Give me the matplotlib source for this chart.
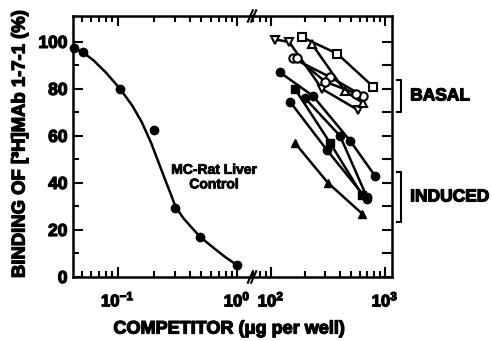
import numpy as np
import matplotlib
matplotlib.use("Agg")
import matplotlib.pyplot as plt
import matplotlib.patheffects as pe
from matplotlib.ticker import LogLocator, NullFormatter, FixedLocator

plt.rcParams["font.family"] = ["Liberation Sans", "DejaVu Sans"]
plt.rcParams["font.weight"] = "bold"
plt.rcParams["mathtext.fontset"] = "custom"
plt.rcParams["mathtext.rm"] = "Liberation Sans:bold"
plt.rcParams["mathtext.it"] = "Liberation Sans:bold"
plt.rcParams["mathtext.bf"] = "Liberation Sans:bold"

# MC-rat liver control (left, low-dose segment)
ctrl_x = [0.043, 0.051, 0.105, 0.20, 0.30, 0.49, 1.0]
ctrl_y = [97.5, 95.5, 80, 62.5, 29.5, 17, 5]
# fitted displacement curve, read at log10(x)
fit_logx = [-1.375, -1.29, -1.2, -1.1, -0.98, -0.88, -0.8, -0.72, -0.66,
            -0.6, -0.55, -0.517, -0.45, -0.38, -0.308, -0.2, -0.1, 0.0]
fit_y = [97.5, 95.5, 92, 87, 80, 73, 66, 57, 49,
         41, 34.5, 30, 25, 21, 17, 12.5, 8.5, 5]

# basal microsomes (open symbols)
basal = [
    ("v", [108, 144, 280, 579], [101, 100, 80, 71]),
    ("s", [187, 380, 785], [102, 95, 81]),
    ("^", [229, 446, 641], [99, 79, 74]),
    ("o", [156, 330, 641], [93, 85, 77]),
    ("o", [169, 300, 560], [93, 83, 78]),
]
# induced microsomes (filled symbols)
induced = [
    ("o", [120, 233, 493, 817], [87, 77, 58, 43]),
    ("s", [162, 330, 627], [80, 57, 35]),
    ("o", [147, 309, 693], [74.5, 54, 33]),
    ("o", [199, 403, 693], [76, 60, 34]),
    ("^", [162, 316, 627], [57, 40, 27]),
]

heavy = [pe.withStroke(linewidth=0.9, foreground="k")]

W, H = 492, 341
fig = plt.figure(figsize=(W / 100, H / 100), dpi=100)
x0, xb, x1 = 73, 252, 392
yb, yt = 277, 16
axL = fig.add_axes([x0 / W, 1 - yb / H, (xb - x0) / W, (yb - yt) / H])
axR = fig.add_axes([xb / W, 1 - yb / H, (x1 - xb) / W, (yb - yt) / H])
axR.patch.set_visible(False)

lw = 1.8
axL.plot(10 ** np.array(fit_logx), fit_y, color="k", lw=lw)
axL.plot(ctrl_x, ctrl_y, "o", color="k", ms=6, clip_on=False)

for m, xs, ys in basal:
    axR.plot(xs, ys, "-", marker=m, color="k", lw=lw, ms=6,
             mfc="white", mec="k", mew=1.5)
for m, xs, ys in induced:
    axR.plot(xs, ys, "-", marker=m, color="k", lw=lw, ms=6, mfc="k", mec="k")

axL.set_xscale("log")
axR.set_xscale("log")
axL.set_xlim(10 ** -1.375, 10 ** 0.125)
axR.set_xlim(10 ** 1.833, 10 ** 3.061)
for ax in (axL, axR):
    ax.set_ylim(0, 111)
    ax.xaxis.set_major_locator(LogLocator(base=10))
    ax.xaxis.set_minor_locator(LogLocator(base=10, subs=np.arange(2, 10)))
    ax.xaxis.set_minor_formatter(NullFormatter())
    ax.tick_params(axis="x", which="both", direction="in", top=True,
                   width=1.5, labelsize=12, pad=9)
    ax.tick_params(axis="x", which="major", length=7)
    ax.tick_params(axis="x", which="minor", length=4)
    for s in ax.spines.values():
        s.set_linewidth(1.8)

axL.spines["right"].set_visible(False)
axR.spines["left"].set_visible(False)

axL.yaxis.set_major_locator(FixedLocator([0, 20, 40, 60, 80, 100]))
axL.yaxis.set_minor_locator(FixedLocator([10, 30, 50, 70, 90]))
axL.tick_params(axis="y", which="both", direction="in", right=False,
                width=1.5, labelsize=12.5, pad=4)
axL.tick_params(axis="y", which="major", length=7)
axL.tick_params(axis="y", which="minor", length=4)

axR.yaxis.set_major_locator(FixedLocator(list(range(0, 110, 10))))
axR.tick_params(axis="y", which="both", direction="in", left=False,
                right=True, labelleft=False, width=1.5, length=7)

for ax in (axL, axR):
    for lab in ax.get_xticklabels() + ax.get_yticklabels():
        lab.set_path_effects(heavy)

# break marks on the x axis
for yy in (0, 1):
    for dx in (-0.012, 0.012):
        axR.plot([dx - 0.018, dx + 0.018], [yy - 0.022, yy + 0.022],
                 transform=axR.transAxes, color="k", lw=1.5, clip_on=False)

axL.text(0.64, 42.5, "MC-Rat Liver\nControl", ha="center", va="center",
         fontsize=10, fontweight="bold", linespacing=1.05, zorder=5,
         path_effects=[pe.withStroke(linewidth=0.6, foreground="k")])

# group brackets on the right
def bracket(y_lo, y_hi, label):
    axR.plot([1.035, 1.065, 1.065, 1.035], [y_hi, y_hi, y_lo, y_lo],
             transform=axR.get_yaxis_transform(), color="k", lw=1.5,
             clip_on=False)
    axR.text(1.13, (y_lo + y_hi) / 2, label,
             transform=axR.get_yaxis_transform(), ha="left", va="center",
             fontsize=12.5, fontweight="bold", path_effects=heavy)

bracket(70.2, 83.8, "BASAL")
bracket(23.4, 44.7, "INDUCED")

fig.text(229 / W, 1 - 329 / H, "COMPETITOR (\u03bcg per well)", ha="center",
         va="center", fontsize=13, fontweight="bold", path_effects=heavy)
fig.text(20 / W, 1 - 144 / H, "BINDING OF [\u00b3H]MAb 1-7-1 (%)",
         rotation=90, ha="center", va="center", fontsize=13.3,
         fontweight="bold", path_effects=heavy)

fig.savefig("out.png", dpi=100)
